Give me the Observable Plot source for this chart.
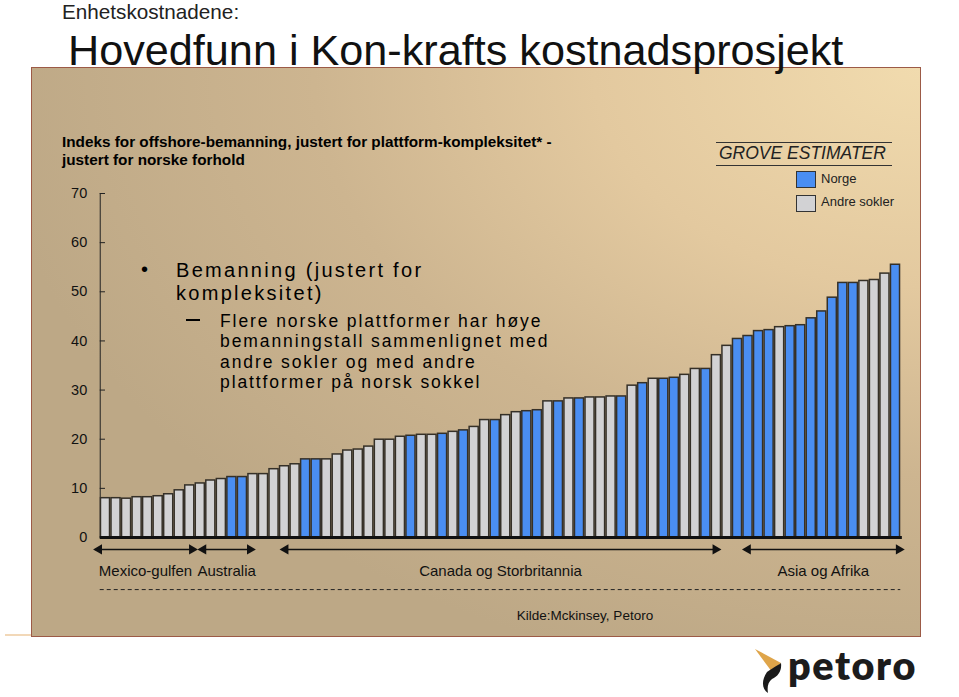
<!DOCTYPE html>
<html><head><meta charset="utf-8">
<script src="https://cdn.jsdelivr.net/npm/d3@7"></script>
<script src="https://cdn.jsdelivr.net/npm/@observablehq/plot@0.6"></script>
<style>
body{margin:0;background:#fff;font-family:"Liberation Sans",Arial,sans-serif;}
#page{position:relative;width:959px;height:697px;overflow:hidden;background:#fff;}
.t{position:absolute;white-space:nowrap;line-height:1;color:#000;}
#panel{position:absolute;left:31px;top:67px;width:888px;height:568px;border:1px solid #9c5a46;
 background:radial-gradient(ellipse 105% 110% at 100% 0%, #f1dbae 0%, #e3c99f 35%, #cdb590 65%, #bda886 100%);}
#chart{position:absolute;left:0;top:0;}
#chart svg{overflow:visible;}
</style></head>
<body><div id="page">
<div style="position:absolute;left:5px;top:634px;width:28px;height:2px;background:#f2d8b8"></div>
<div id="panel"></div>
<div class="t" style="left:62px;top:2px;font-size:20.7px;color:#222">Enhetskostnadene:</div>
<div class="t" style="left:68px;top:29px;font-size:43.2px;color:#111">Hovedfunn i Kon-krafts kostnadsprosjekt</div>
<div class="t" style="left:62px;top:133px;font-size:15.3px;font-weight:bold;line-height:18px">Indeks for offshore-bemanning, justert for plattform-kompleksitet* -<br>justert for norske forhold</div>

<div style="position:absolute;left:716px;top:142px;width:176px;border-top:1px solid #333"></div>
<div style="position:absolute;left:716px;top:165px;width:176px;border-top:1px solid #333"></div>
<div class="t" style="left:719px;top:145px;font-size:17.5px;font-style:italic;color:#222">GROVE ESTIMATER</div>
<div style="position:absolute;left:796px;top:171px;width:18px;height:15px;border:1px solid #333;background:#4a8ef2"></div>
<div style="position:absolute;left:796px;top:195px;width:18px;height:15px;border:1px solid #333;background:#d2d2d4"></div>
<div class="t" style="left:821px;top:172px;font-size:13px;color:#222">Norge</div>
<div class="t" style="left:821px;top:195px;font-size:13px;color:#222">Andre sokler</div>

<div class="t" style="left:141px;top:259px;font-size:20px">•</div>
<div class="t" style="left:176px;top:259px;font-size:20px;letter-spacing:2.3px;line-height:23px">Bemanning (justert for<br>kompleksitet)</div>
<div style="position:absolute;left:186px;top:319px;width:14px;height:1.5px;background:#000"></div>
<div class="t" style="left:220px;top:311px;font-size:17.5px;letter-spacing:1.9px;line-height:20.3px">Flere norske plattformer har høye<br>bemanningstall sammenlignet med<br>andre sokler og med andre<br>plattformer på norsk sokkel</div>

<div class="t" style="left:585px;top:609px;font-size:13.5px;transform:translateX(-50%);color:#111">Kilde:Mckinsey, Petoro</div>

<svg style="position:absolute;left:750px;top:645px" width="40" height="52" viewBox="0 0 40 52">
 <path d="M5,4 L31,18 L22,27 Z" fill="#dfa54a"/>
 <path d="M17,27 C24,22 30,19 31,18 C32,26 28,31 22,34 C18,37 17,42 18,48 C12,44 11,36 17,27 Z" fill="#1a1a1a"/>
</svg>
<div class="t" style="left:788px;top:645px;font-size:39.5px;font-family:Lato,'DejaVu Sans',sans-serif;font-weight:800;letter-spacing:1.6px;color:#1c1c1c">petoro</div>

<div id="chart"></div>
</div>
<script>
// Indeks verdier per plattform (sortert stigende)
const values = [8.0, 8.0, 7.9, 8.2, 8.2, 8.4, 8.8, 9.6, 10.6, 11.0,
  11.6, 11.9, 12.3, 12.3, 12.9, 12.9, 13.9, 14.5, 14.9, 15.9,
  15.9, 15.9, 16.9, 17.7, 17.9, 18.5, 19.9, 19.9, 20.5, 20.7,
  20.9, 20.9, 21.1, 21.5, 21.8, 22.5, 23.9, 23.9, 24.9, 25.5,
  25.7, 25.9, 27.7, 27.7, 28.3, 28.3, 28.5, 28.5, 28.7, 28.7,
  30.9, 31.4, 32.3, 32.3, 32.5, 33.1, 34.3, 34.3, 37.1, 39.0,
  40.4, 41.0, 42.0, 42.2, 42.8, 43.0, 43.2, 44.6, 46.0, 48.8,
  51.8, 51.8, 52.2, 52.4, 53.7, 55.5];
// N = Norge, A = Andre sokler
const sokkel = ["A","A","A","A","A","A","A","A","A","A",
  "A","A","N","N","A","A","A","A","A","N",
  "N","A","A","A","A","A","A","A","A","N",
  "A","A","N","A","N","A","A","N","A","A",
  "N","N","A","N","A","N","A","A","A","N",
  "A","N","A","N","N","A","A","N","A","A",
  "N","N","N","N","A","N","N","N","N","N",
  "N","N","A","A","A","N"];
const seriesNames = {N: "Norge", A: "Andre sokler"};
const seriesColors = {N: "#4a8ef2", A: "#d2d2d4"};
const yTicks = [0, 10, 20, 30, 40, 50, 60, 70];
const regionLabels = ["Mexico-gulfen", "Australia", "Canada og Storbritannia", "Asia og Afrika"];
const regionStart = [0.1, 10.0, 17.8, 61.7];
const regionEnd = [9.5, 15.0, 59.2, 76.6];

const data = values.map((v, k) => ({i: k + 1, v, s: sokkel[k], name: seriesNames[sokkel[k]]}));
const regions = regionLabels.map((label, k) => ({label, from: regionStart[k], to: regionEnd[k]}));

const ARROW_Y = -2.44, LABEL_Y = -6.9, DASH_Y = -10.6;
const chart = Plot.plot({
  width: 959, height: 697,
  marginTop: 193, marginBottom: 160, marginLeft: 99.73, marginRight: 58.73,
  x: {domain: [0.5, 76.5], axis: null},
  y: {domain: [0, 70], axis: null},
  style: {background: "transparent", fontFamily: "Liberation Sans, Arial, sans-serif", color: "#111"},
  marks: [
    Plot.ruleX([0.5], {y1: 0, y2: 70, stroke: "#222", strokeWidth: 1}),
    Plot.ruleY(yTicks, {x1: 0.5, x2: 1.0, y: d => d, stroke: "#222", strokeWidth: 1}),
    Plot.text(yTicks, {x: 0.5, y: d => d, text: d => String(d), dx: -13, textAnchor: "end", fontSize: 14.5, fill: "#111"}),
    Plot.rectY(data, {x1: d => d.i - 0.43, x2: d => d.i + 0.43, y1: 0, y2: "v",
      fill: d => seriesColors[d.s], stroke: "#353028", strokeWidth: 1.5}),
    Plot.ruleY([0], {x1: 0.5, x2: 76.65, stroke: "#111", strokeWidth: 3}),
    Plot.ruleY(regions, {y: ARROW_Y, x1: "from", x2: "to", stroke: "#111", strokeWidth: 1.5}),
    Plot.dot(regions, {x: "from", y: ARROW_Y, symbol: "triangle", rotate: -90, r: 3.8, dx: 3, fill: "#111", stroke: "none"}),
    Plot.dot(regions, {x: "to", y: ARROW_Y, symbol: "triangle", rotate: 90, r: 3.8, dx: -3, fill: "#111", stroke: "none"}),
    Plot.text(regions, {x: d => (d.from + d.to) / 2, y: LABEL_Y, text: "label", fontSize: 15, fill: "#111"}),
    Plot.ruleY([DASH_Y], {x1: 0.5, x2: 76.5, stroke: "#222", strokeWidth: 1, strokeDasharray: "4,3"})
  ]
});
document.getElementById("chart").appendChild(chart);
</script>
</body></html>
